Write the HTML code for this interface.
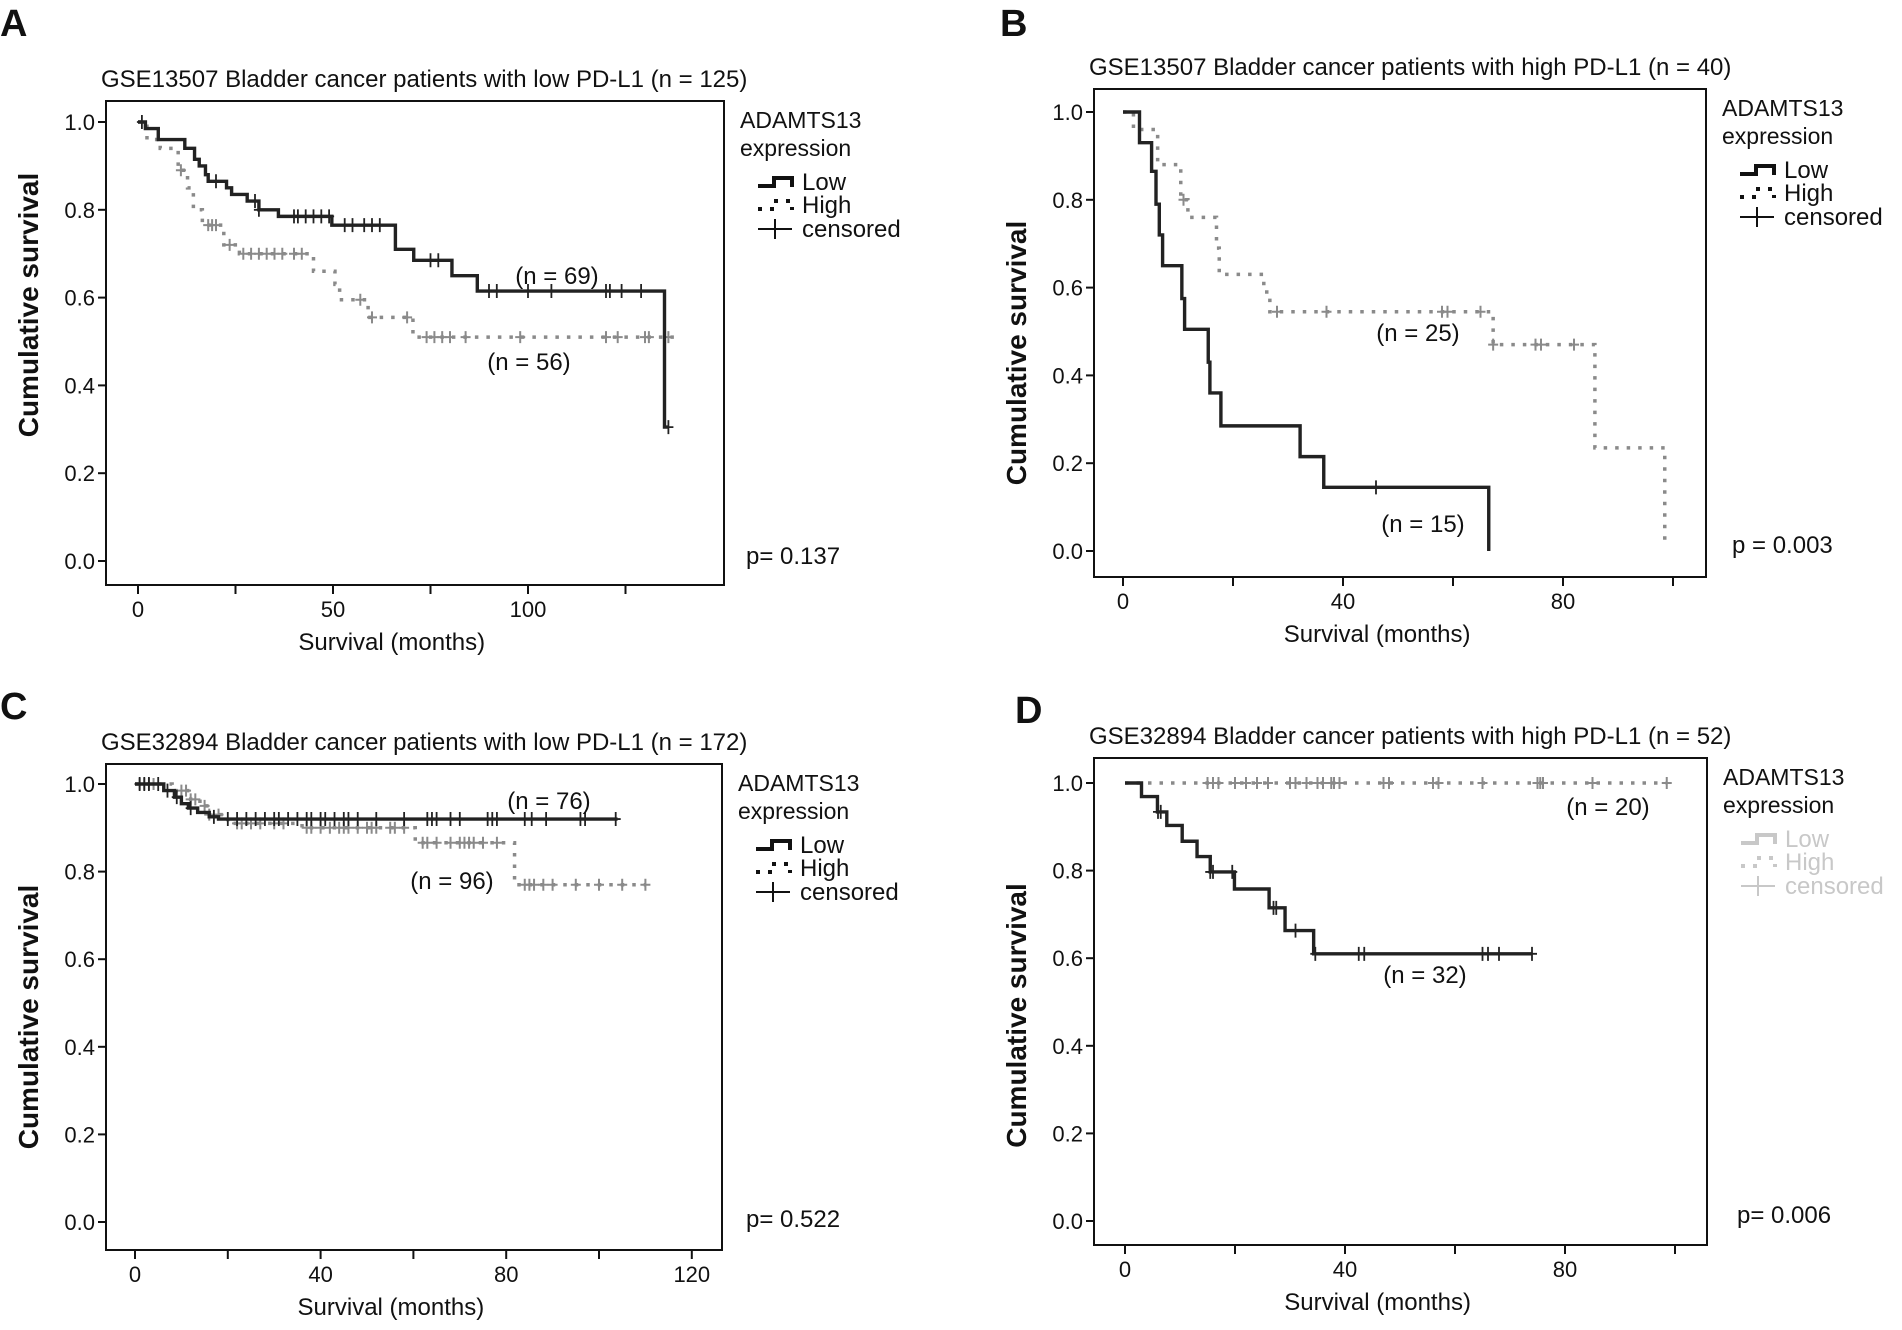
<!DOCTYPE html>
<html><head><meta charset="utf-8">
<style>
html,body{margin:0;padding:0;background:#fff;}
svg{display:block;}
text{font-family:"Liberation Sans",Arial,sans-serif;fill:#111;}
</style></head>
<body>
<svg id="fig" width="1902" height="1330" viewBox="0 0 1902 1330" xmlns="http://www.w3.org/2000/svg"></svg>
<script>
// ---- Panel A data ----
const aLowT=[1.9,5.2,12,14.5,15.7,17.3,18,22.7,24,28,31,36,49.7,66,70.7,80.5,87,135];
const aLowS=[0.985,0.96,0.94,0.915,0.9,0.88,0.865,0.85,0.835,0.82,0.8,0.785,0.765,0.71,0.685,0.65,0.615,0.305];
const aLowEnd=136;
const aLowC=[1,20,30,31,40,41,43,45,47,49,53,55,58,60,62,75,77,90,92,100,106,120,121,124,129,136];
const aHighT=[2.3,5.7,10.3,12.7,14.2,16.5,22,26,45,50.5,51.7,59,70.5];
const aHighS=[0.96,0.94,0.89,0.85,0.8,0.765,0.72,0.70,0.66,0.63,0.595,0.555,0.51];
const aHighEnd=137.6;
const aHighC=[11,18,19,20,23.5,27,29,31,33,35,37,40,42,57,60,69,74,76,78,80,84,98,120,123,130,131,136];
// ---- Panel B data ----
const bLowT=[3,5.2,6,6.6,7.2,10.7,11.2,15.5,15.8,17.8,32.2,36.5,66.5];
const bLowS=[0.93,0.865,0.79,0.72,0.65,0.575,0.505,0.43,0.36,0.285,0.215,0.145,0];
const bLowEnd=66.5;
const bLowC=[46];
const bHighT=[1.9,6.3,10.5,11.8,17,17.5,25.6,26.7,67.3,85.8,98.5];
const bHighS=[0.96,0.88,0.8,0.76,0.69,0.63,0.59,0.545,0.47,0.235,0.01];
const bHighEnd=98.5;
const bHighC=[11,28,37,58,59,65,67.3,75,76,82];
// ---- Panel C data ----
const cLowT=[6.2,8.5,10,11.5,13.5,16,18];
const cLowS=[0.985,0.97,0.955,0.945,0.935,0.925,0.92];
const cLowEnd=104;
const cLowC=[1,2,3,5,7,9,12,17,20,22,24,26,28,30,31,33,35,37,38,40,41,43,45,46,48,52,58,63,64,65,68,70,76,77,78,84,85.5,88.6,96,97,103.6];
const cHighT=[8,12,14,16,20,36,60.4,81.8];
const cHighS=[0.985,0.965,0.95,0.93,0.91,0.9,0.866,0.77];
const cHighEnd=110;
const cHighC=[1,2,3,4,10,11,12,13,15,16,18,22,23,25,27,30,32,37,38,40,42,44,45,46,48,50,51,52,55,56,58,62,63,65,68,70,71,72,73,75,78,84,85,86,88,90,95,100,105,110];
// ---- Panel D data ----
const dLowT=[3,5.9,7.6,10.4,13.1,15.5,19.9,26.2,29.1,34.3];
const dLowS=[0.969,0.934,0.903,0.867,0.832,0.797,0.758,0.715,0.663,0.61];
const dLowEnd=74;
const dLowC=[6,6.5,15.5,16,19.5,27,27.5,31,34.6,42.5,43.5,65,66,68,74];
const dHighT=[];
const dHighS=[];
const dHighEnd=98.5;
const dHighC=[15,16,17,20,22,24,26,30,31,33,35,36,37.5,38,39,47,48,56,57,65,75,75.5,76,85,98.5];

const NS="http://www.w3.org/2000/svg";
const fig=document.getElementById('fig');
function mk(tag,attrs,parent,txt){const e=document.createElementNS(NS,tag);for(const k in attrs)e.setAttribute(k,attrs[k]);if(txt!==undefined)e.textContent=txt;(parent||fig).appendChild(e);return e;}

function kmPath(T,S,end,xs,ys){let d='M'+xs(0)+','+ys(1);for(let i=0;i<T.length;i++){d+=' H'+xs(T[i])+' V'+ys(S[i]);}d+=' H'+xs(end);return d;}
function survAt(T,S,t){let s=1;for(let i=0;i<T.length;i++){if(T[i]<=t)s=S[i];}return s;}

function panel(p){
  const g=mk('g',{});
  
  
  const xs=m=>p.x0+m*p.ppm, ys=v=>p.y0+(p.y1-p.y0)*v;
  const L=mk('text',{x:p.lx,y:p.ly,'font-size':38,'font-weight':'bold'},g,p.letter);
  
  const t=mk('text',{x:p.fl-5,y:p.ft-14,'font-size':24},g,p.title);
  
  const fr=mk('rect',{x:p.fl,y:p.ft,width:p.fr-p.fl,height:p.fb-p.ft,fill:'none',stroke:'#111','stroke-width':2},g);
  
  [0,0.2,0.4,0.6,0.8,1.0].forEach(v=>{
    const tk=mk('line',{x1:p.fl-8,x2:p.fl,y1:ys(v),y2:ys(v),stroke:'#111','stroke-width':2},g);
    
    const tl=mk('text',{x:p.fl-11,y:ys(v)+8,'font-size':22,'text-anchor':'end'},g,v.toFixed(1));
    
  });
  p.ticks.forEach(m=>{
    const tk=mk('line',{x1:xs(m),x2:xs(m),y1:p.fb,y2:p.fb+9,stroke:'#111','stroke-width':2},g);
    
  });
  p.labels.forEach(m=>{
    const tl=mk('text',{x:xs(m),y:p.fb+32,'font-size':22,'text-anchor':'middle'},g,String(m));
    
  });
  const xt=mk('text',{x:(p.fl+p.fr)/2-(p.fr-p.fl)*0.07+20,y:p.fb+65,'font-size':24,'text-anchor':'middle'},g,'Survival (months)');
  
  const cy=(p.ft+p.fb)/2+10+(p.ytOff||0);
  const yt=mk('text',{x:p.fl-68,y:cy,'font-size':28,'font-weight':'bold','text-anchor':'middle',transform:'rotate(-90 '+(p.fl-68)+' '+cy+')'},g,'Cumulative survival');
  
  const hc=mk('path',{d:kmPath(p.hT,p.hS,p.hE,xs,ys),fill:'none',stroke:'#8a8a8a','stroke-width':3.5,'stroke-dasharray':'3.5 8'},g);
  
  p.hC.forEach(m=>{const y=ys(survAt(p.hT,p.hS,m)),x=xs(m);
    const c=mk('path',{d:`M${x-5},${y}H${x+5}M${x},${y-6}V${y+6}`,stroke:'#8a8a8a','stroke-width':2},g);
    });
  const lc=mk('path',{d:kmPath(p.lT,p.lS,p.lE,xs,ys),fill:'none',stroke:'#222','stroke-width':3.4},g);
  
  p.lC.forEach(m=>{const y=ys(survAt(p.lT,p.lS,m)),x=xs(m);
    const c=mk('path',{d:`M${x-5},${y}H${x+5}M${x},${y-7}V${y+7}`,stroke:'#222','stroke-width':1.8},g);
    });
  p.n.forEach(n=>{const e=mk('text',{x:n[1],y:n[2]+8,'font-size':24,'text-anchor':'middle'},g,n[0]);
    });
  const pv=mk('text',{x:p.px,y:p.py+8,'font-size':24},g,p.pText);
  
  const lx=p.fr+16, lg=mk('g',{},g);
  
  const col=p.fadeLegend?'#c8c8c8':'#111';
  mk('text',{x:lx,y:p.ft+27,'font-size':23},lg,'ADAMTS13');
  mk('text',{x:lx,y:p.ft+55,'font-size':23},lg,'expression');
  const ix=lx+18;
  const e1=mk('path',{d:`M${ix},${p.ft+85}H${ix+16}V${p.ft+77}H${ix+34}V${p.ft+86}`,fill:'none',stroke:col,'stroke-width':4},lg);
  
  mk('text',{x:ix+44,y:p.ft+89,'font-size':24,style:'fill:'+col},lg,'Low');
  const e2=mk('path',{d:`M${ix},${p.ft+108}H${ix+16}V${p.ft+100}H${ix+34}V${p.ft+109}`,fill:'none',stroke:col,'stroke-width':4,'stroke-dasharray':'4 8'},lg);
  
  mk('text',{x:ix+44,y:p.ft+112,'font-size':24,style:'fill:'+col},lg,'High');
  const e3=mk('path',{d:`M${ix},${p.ft+128}H${ix+34}M${ix+17},${p.ft+118}V${p.ft+138}`,stroke:col,'stroke-width':2},lg);
  
  mk('text',{x:ix+44,y:p.ft+136,'font-size':24,style:'fill:'+col},lg,'censored');
}

panel({id:'a',letter:'A',lx:0,ly:36,title:'GSE13507 Bladder cancer patients with low PD-L1 (n = 125)',
  fl:106,fr:724,ft:101,fb:585,x0:138,ppm:3.9,y0:561,y1:122,ytOff:-48,
  ticks:[0,25,50,75,100,125],labels:[0,50,100],
  lT:aLowT,lS:aLowS,lE:aLowEnd,lC:aLowC,hT:aHighT,hS:aHighS,hE:aHighEnd,hC:aHighC,
  n:[['(n = 69)',557,276],['(n = 56)',529,362]],px:746,py:556,pText:'p= 0.137'});
panel({id:'b',letter:'B',lx:1000,ly:36,title:'GSE13507 Bladder cancer patients with high PD-L1 (n = 40)',
  fl:1094,fr:1706,ft:89,fb:577,x0:1123,ppm:5.5,y0:551,y1:112,ytOff:10,
  ticks:[0,20,40,60,80,100],labels:[0,40,80],
  lT:bLowT,lS:bLowS,lE:bLowEnd,lC:bLowC,hT:bHighT,hS:bHighS,hE:bHighEnd,hC:bHighC,
  n:[['(n = 25)',1418,333],['(n = 15)',1423,524]],px:1732,py:545,pText:'p = 0.003'});
panel({id:'c',letter:'C',lx:0,ly:719,title:'GSE32894 Bladder cancer patients with low PD-L1 (n = 172)',
  fl:106,fr:722,ft:764,fb:1250,x0:135,ppm:4.64,y0:1222,y1:784,
  ticks:[0,20,40,60,80,100,120],labels:[0,40,80,120],
  lT:cLowT,lS:cLowS,lE:cLowEnd,lC:cLowC,hT:cHighT,hS:cHighS,hE:cHighEnd,hC:cHighC,
  n:[['(n = 76)',549,801],['(n = 96)',452,881]],px:746,py:1219,pText:'p= 0.522'});
panel({id:'d',letter:'D',lx:1015,ly:723,title:'GSE32894 Bladder cancer patients with high PD-L1 (n = 52)',
  fl:1094,fr:1707,ft:758,fb:1245,x0:1125,ppm:5.5,y0:1221,y1:783,ytOff:4,
  ticks:[0,20,40,60,80,100],labels:[0,40,80],fadeLegend:true,
  lT:dLowT,lS:dLowS,lE:dLowEnd,lC:dLowC,hT:dHighT,hS:dHighS,hE:dHighEnd,hC:dHighC,
  n:[['(n = 20)',1608,807],['(n = 32)',1425,975]],px:1737,py:1215,pText:'p= 0.006'});
</script>
</body></html>
